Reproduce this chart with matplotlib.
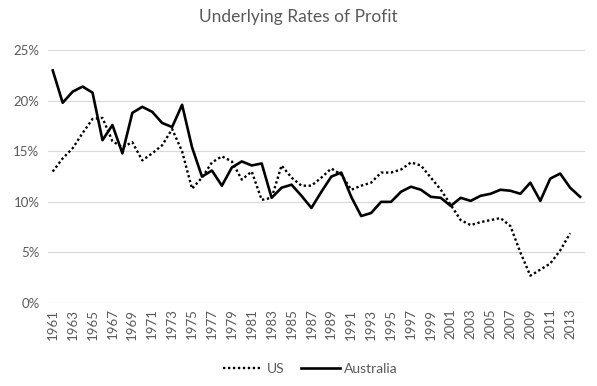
import numpy as np
import matplotlib
matplotlib.use('Agg')
import matplotlib.pyplot as plt

plt.rcParams['font.family'] = ['Lato', 'DejaVu Sans']

# Data (rate of profit, %)
years = list(range(1961, 2015))
us = [13.0, 14.3, 15.3, 16.8, 18.2, 18.3, 16.0, 15.4, 15.9, 14.1,
      14.8, 15.6, 17.2, 15.0, 11.3, 12.4, 13.9, 14.5, 14.0, 12.2,
      13.0, 10.2, 10.4, 13.6, 12.4, 11.6, 11.6, 12.4, 13.3, 12.7,
      11.2, 11.6, 11.9, 12.9, 12.9, 13.2, 13.9, 13.6, 12.4, 11.2,
      9.7, 8.2, 7.7, 8.0, 8.2, 8.4, 7.6, 5.0, 2.7, 3.3,
      3.9, 5.2, 6.9, None]
australia = [23.0, 19.8, 20.9, 21.4, 20.8, 16.1, 17.6, 14.8, 18.8, 19.4,
             18.9, 17.8, 17.4, 19.6, 15.4, 12.5, 13.1, 11.6, 13.4, 14.0,
             13.6, 13.8, 10.4, 11.4, 11.7, 10.6, 9.4, 11.0, 12.5, 12.9,
             10.5, 8.6, 8.9, 10.0, 10.0, 11.0, 11.5, 11.2, 10.5, 10.4,
             9.6, 10.4, 10.1, 10.6, 10.8, 11.2, 11.1, 10.8, 11.9, 10.1,
             12.3, 12.8, 11.4, 10.5]

x = np.arange(len(years))
us_vals = np.array([np.nan if v is None else v / 100 for v in us])
aus_vals = np.array(australia) / 100

fig = plt.figure(figsize=(5.97, 3.86), dpi=100)
ax = fig.add_axes([0.080, 0.215, 0.900, 0.655])

ax.plot(x, us_vals, color='black', linewidth=1.7, linestyle=(0, (1, 1.1)),
        dash_capstyle='butt', label='US')
ax.plot(x, aus_vals, color='black', linewidth=1.9, label='Australia')

ax.set_xlim(-0.5, len(years) - 0.5)
ax.set_ylim(0, 0.25)
ticks = np.arange(0, 0.26, 0.05)
ax.set_yticks(ticks)
ax.set_yticklabels([f'{int(round(v * 100))}%' for v in ticks])
ax.set_xticks(x[::2])
ax.set_xticklabels([str(y) for y in years[::2]], rotation=90)

ax.grid(axis='y', color='#d9d9d9', linewidth=0.8)
ax.set_axisbelow(True)
for s in ax.spines.values():
    s.set_visible(False)
ax.tick_params(axis='both', length=0, labelsize=9.5, colors='#595959', pad=6)
ax.tick_params(axis='x', pad=4)

fig.text(0.5, 0.955, 'Underlying Rates of Profit', ha='center', va='center',
         fontsize=12.5, color='#595959')

fig.legend(loc='center', bbox_to_anchor=(0.52, 0.045), ncol=2, frameon=False,
           fontsize=10, labelcolor='#595959', handlelength=2.8, columnspacing=1.2,
           handletextpad=0.3)

fig.savefig('out.png', dpi=100)
